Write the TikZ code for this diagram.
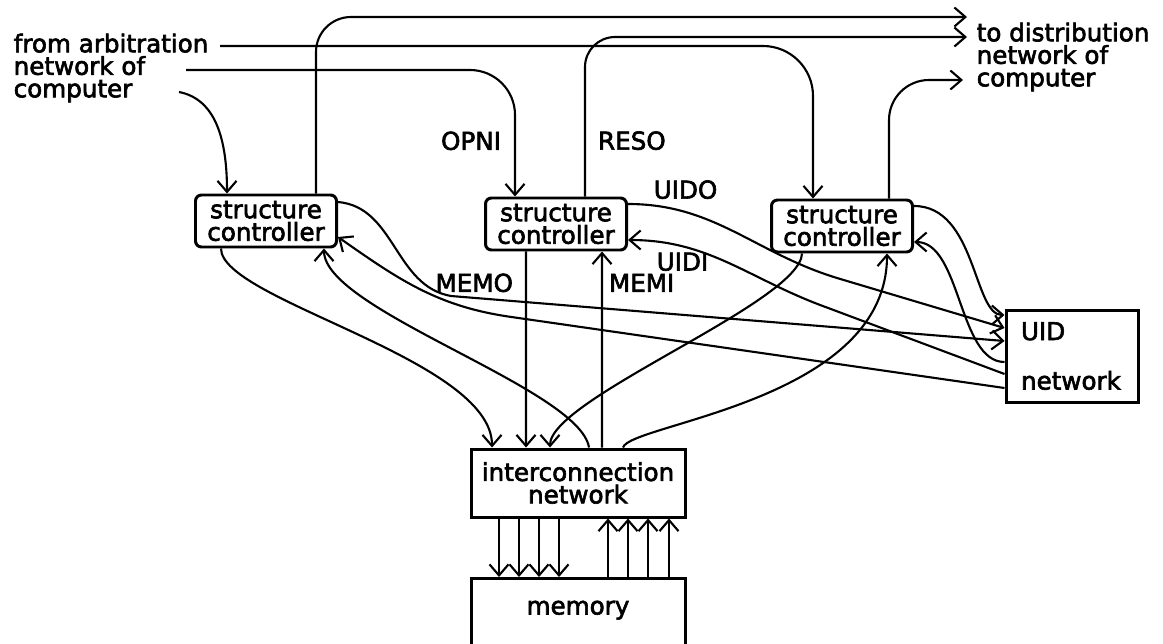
\documentclass[tikz,border=0pt]{standalone}
\usepackage{fontspec}
\setmainfont{DejaVu Sans}[FakeBold=2.5]
\usetikzlibrary{arrows.meta}

\begin{document}
\begin{tikzpicture}[
    x=0.1mm, y=0.1mm,
    >={Straight Barb[length=1.1mm, width=1.9mm]},
    every node/.style={font=\fontsize{7}{6.4}\selectfont},
    wire/.style={line width=0.6pt},
    ctrl/.style={draw, line width=0.85pt, rounded corners=0.6mm,
        minimum width=14.1mm, minimum height=5.2mm, align=center, inner sep=0pt},
    unit/.style={draw, line width=0.85pt, align=center, inner sep=0pt},
    plain/.style={inner sep=0pt, align=left},
    sig/.style={inner sep=1.2mm},
    ]

    \clip (0,0) rectangle (1163,-643);

    % texts at both ends
    \node[plain, anchor=west] (src) at (13,-68)
        {from arbitration\\network of\\computer};
    \node[plain, anchor=west] (dst) at (976,-57)
        {to distribution\\network of\\computer};
    \coordinate (srcA) at (220,-46);
    \coordinate (srcB) at (186,-70);
    \coordinate (srcC) at (179,-92);
    \coordinate (dstA) at (967,-17);
    \coordinate (dstB) at (967,-37);
    \coordinate (dstC) at (963,-80);

    % boxes
    \node[ctrl] (sc1) at (266,-221) {structure\\controller};
    \node[ctrl] (sc2) at (556,-224) {structure\\controller};
    \node[ctrl] (sc3) at (842,-226) {structure\\controller};
    \node[unit, minimum width=13.2mm, minimum height=9.2mm, align=left,
        text width=10.2mm] (uid) at (1072,-356) {UID\\[2.7mm]network};
    \node[unit, minimum width=21.4mm, minimum height=6.8mm] (icn)
        at (578,-483) {interconnection\\network};
    \node[unit, anchor=north, minimum width=21.4mm, text height=3.6mm,
        text depth=6mm] (mem) at (578,-577) {memory};

    % from arbitration network
    \draw[wire, ->, rounded corners=5mm] (srcA) -| ([xshift=-2.9mm]sc3.north);
    \draw[wire, ->, rounded corners=4.5mm] (srcB)
        -| node[sig, left, inner sep=1.3mm, pos=0.78] (opni) {OPNI}
        ([xshift=-4.1mm]sc2.north);
    \draw[wire, ->] (srcC) to[out=-11, in=90, out distance=3.7mm,
        in distance=5.5mm] ([xshift=-3.9mm]sc1.north);

    % to distribution network
    \draw[wire, ->, rounded corners=3.5mm] ([xshift=5mm]sc1.north) |- (dstA);
    \draw[wire, ->, rounded corners=3mm] ([xshift=2.9mm]sc2.north)
        |- node[sig, right, pos=0.175] (reso) {RESO} (dstB);
    \draw[wire, ->, rounded corners=4mm] ([xshift=4.7mm]sc3.north) |- (dstC);

    % to and from the interconnection network
    \draw[wire, ->] ([xshift=-4.5mm]sc1.south) to[out=-90, in=90,
        out distance=5.2mm, in distance=8.9mm] ([xshift=-8.6mm]icn.north);
    \draw[wire, ->] ([xshift=1.1mm]icn.north) to[out=99, in=-90,
        out distance=6mm, in distance=6.2mm] ([xshift=5.8mm]sc1.south);
    \draw[wire, ->] ([xshift=-3mm]sc2.south)
        -- node[sig, left, pos=0.16] (memo) {MEMO} ([xshift=-5.2mm]icn.north);
    \draw[wire, ->] ([xshift=2.4mm]icn.north)
        -- node[sig, right, inner sep=0.6mm, pos=0.84] (memi) {MEMI}
        ([xshift=4.6mm]sc2.south);
    \draw[wire, ->] ([xshift=-4mm]sc3.south) to[out=-92, in=90,
        out distance=4.9mm, in distance=4.9mm] ([xshift=-2.8mm]icn.north);
    \draw[wire, ->] ([xshift=4.5mm]icn.north) to[out=74, in=-90,
        out distance=2.5mm, in distance=14.8mm] ([xshift=4.5mm]sc3.south);

    % to and from the UID network
    \draw[wire, ->] ([yshift=1.9mm]sc1.east) to[out=-5, in=170]
        ++(11.3mm,-9.4mm) -- ([yshift=1.5mm]uid.west);
    \draw[wire, ->] ([yshift=2mm]sc2.east) to[out=0, in=163]
        node[sig, above, pos=0.25] (uido) {UIDO}
        ++(20.9mm,-7.4mm) -- ([yshift=2.8mm]uid.west);
    \draw[wire, ->] ([yshift=2mm]sc3.east) to[out=0, in=180,
        out distance=6.2mm, in distance=3.1mm] ([yshift=4.1mm]uid.west);
    \draw[wire, ->] ([yshift=-3.2mm]uid.west) -- ++(-49.3mm,7.1mm)
        to[out=172, in=-35] ([yshift=-1.6mm]sc1.east);
    \draw[wire, ->] ([yshift=-1.8mm]uid.west) -- ++(-17.9mm,6.7mm)
        to[out=160, in=0] node[sig, below, inner sep=0.5mm, pos=0.75] (uidi)
        {UIDI} ([yshift=-1.6mm]sc2.east);
    \draw[wire, ->] ([yshift=-0.6mm]uid.west) to[out=180, in=0,
        out distance=4.6mm, in distance=4.7mm] ([yshift=-1.6mm]sc3.east);

    % interconnection network to memory
    \foreach \dx in {-7.9,-5.9,-3.9,-1.9}
        \draw[wire, ->] ([xshift=\dx mm]icn.south) -- ([xshift=\dx mm]mem.north);
    \foreach \dx in {3.0,5.0,7.0,9.1}
        \draw[wire, ->] ([xshift=\dx mm]mem.north) -- ([xshift=\dx mm]icn.south);

\end{tikzpicture}
\end{document}
